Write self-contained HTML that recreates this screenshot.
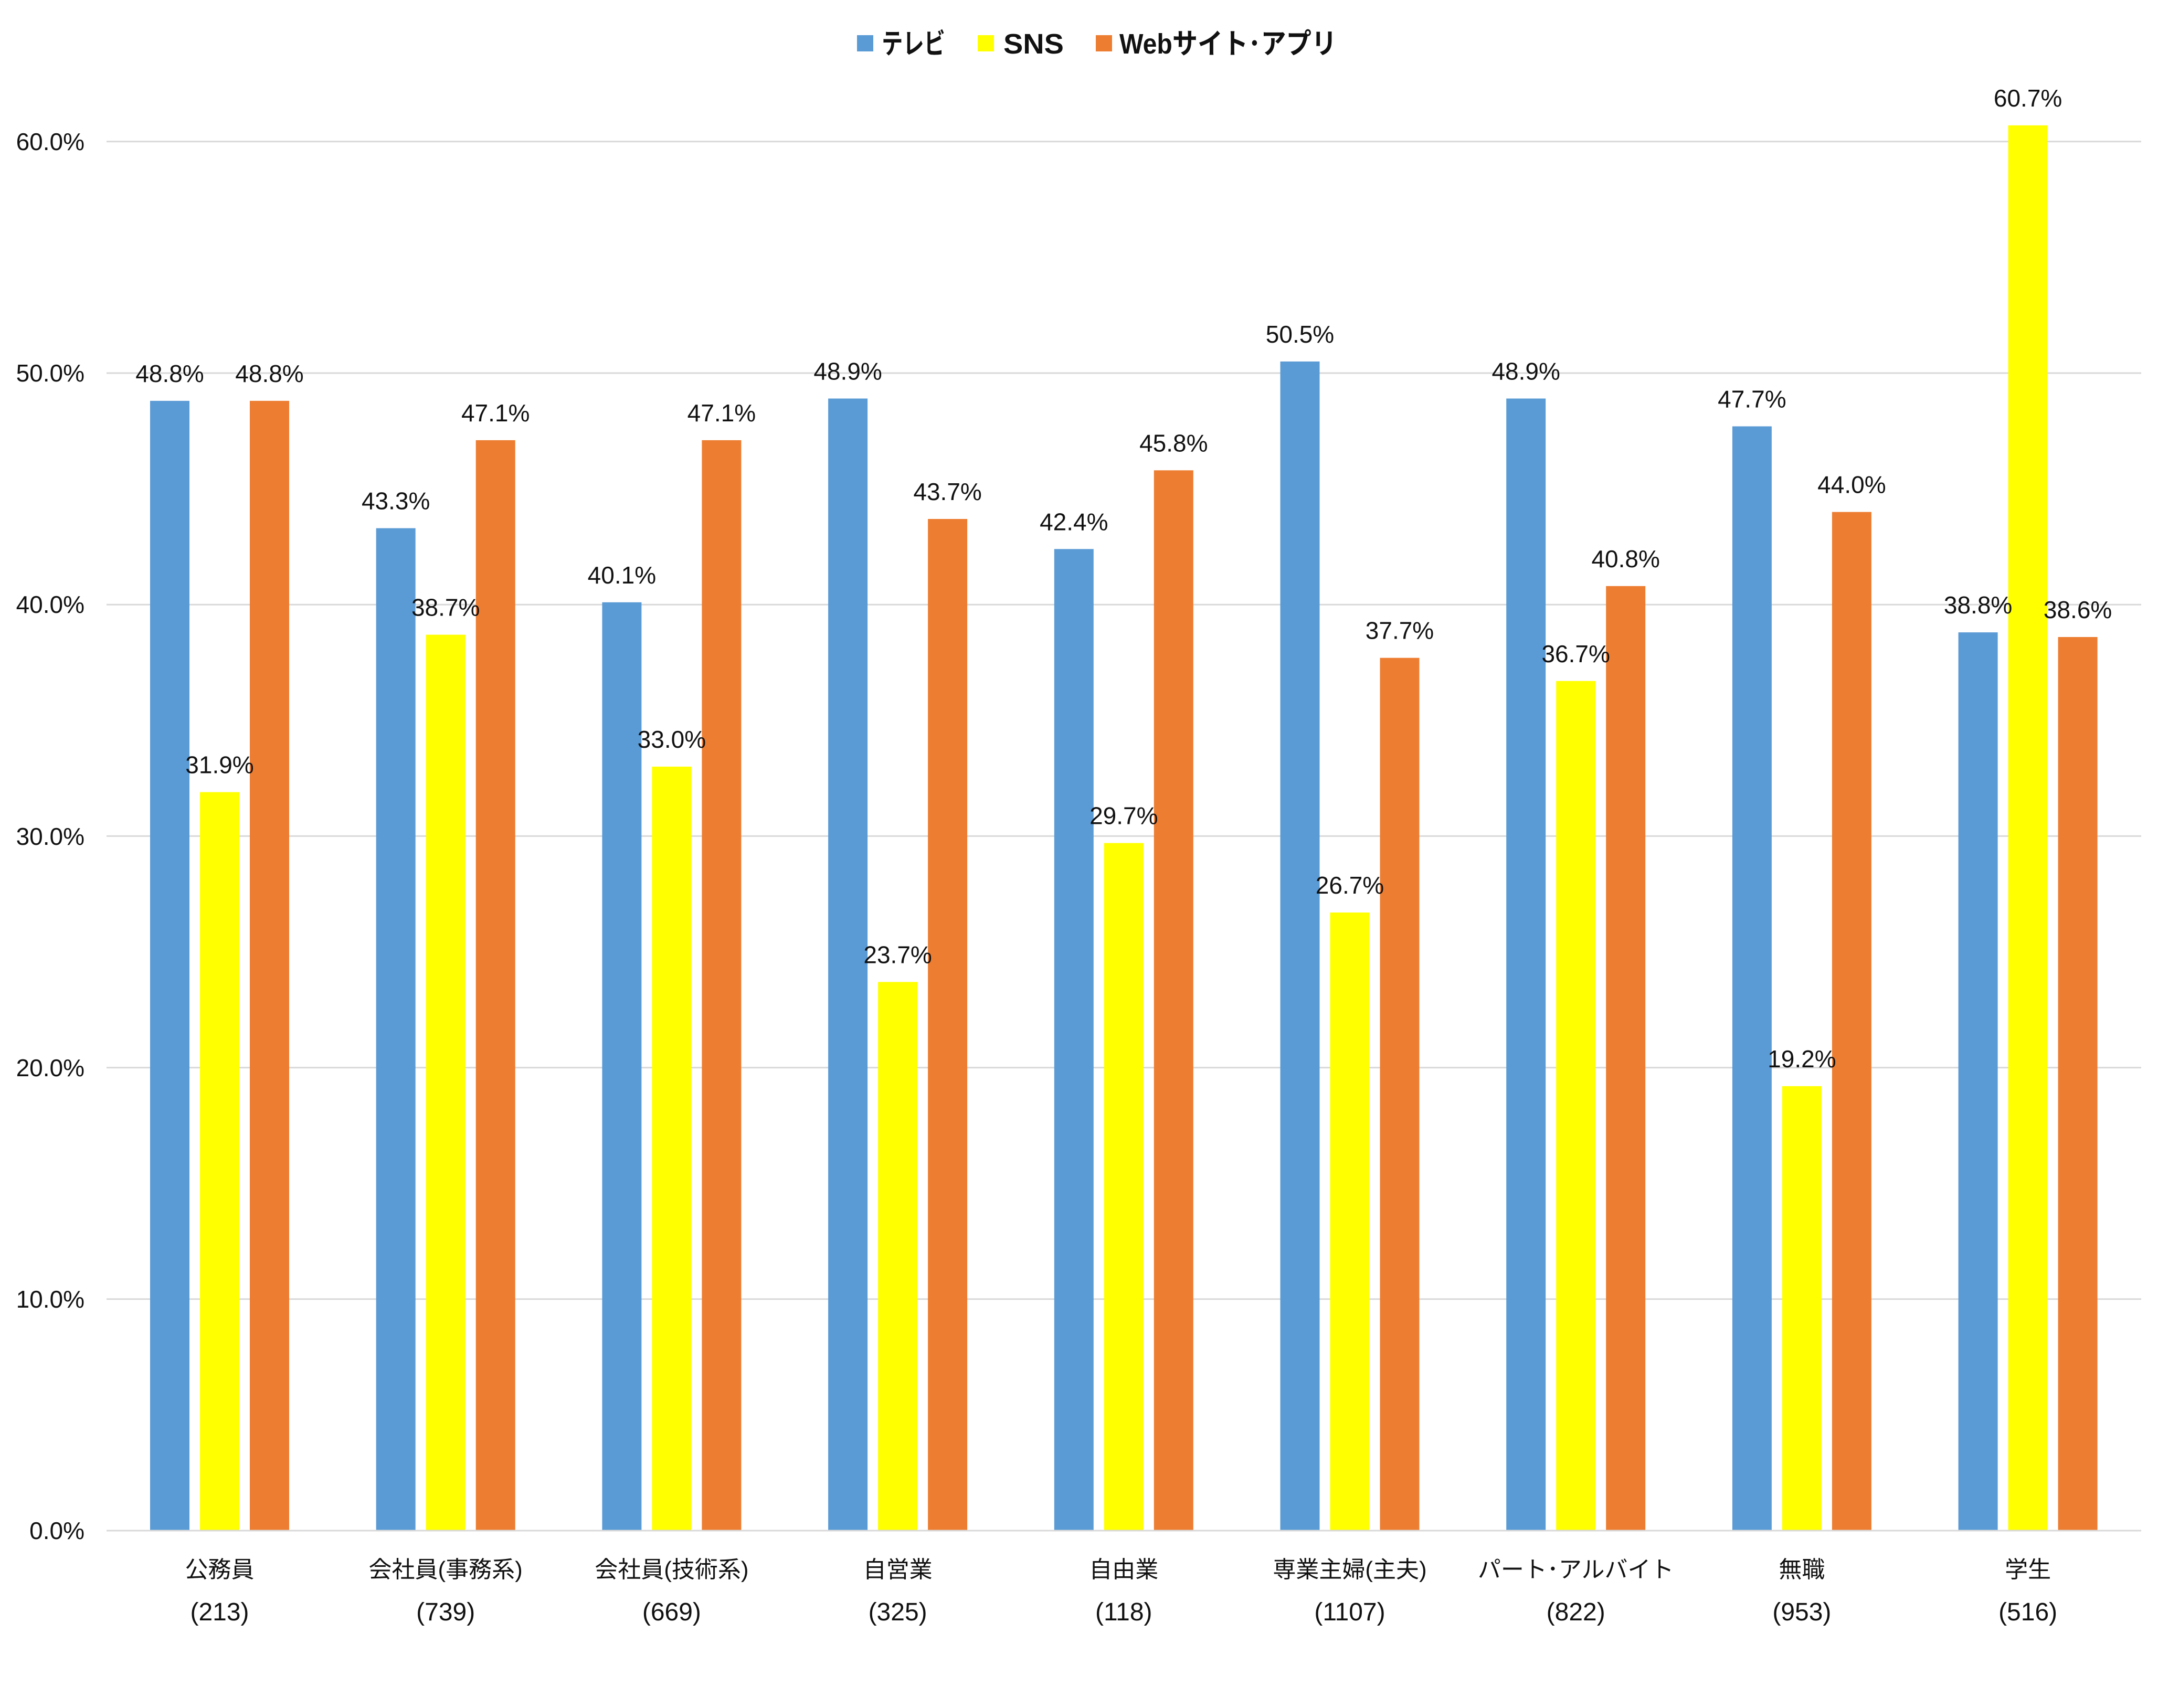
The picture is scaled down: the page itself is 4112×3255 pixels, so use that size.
<!DOCTYPE html>
<html><head><meta charset="utf-8"><style>html,body{margin:0;padding:0;background:#fff}svg{display:block}</style></head>
<body>
<svg width="4112" height="3255" viewBox="0 0 4112 3255" xmlns="http://www.w3.org/2000/svg">
<rect width="4112" height="3255" fill="#fff"/>
<g stroke="#d9d9d9" stroke-width="3">
<line x1="203" y1="2475.8" x2="4080" y2="2475.8"/>
<line x1="203" y1="2034.6" x2="4080" y2="2034.6"/>
<line x1="203" y1="1593.4" x2="4080" y2="1593.4"/>
<line x1="203" y1="1152.2" x2="4080" y2="1152.2"/>
<line x1="203" y1="711" x2="4080" y2="711"/>
<line x1="203" y1="269.8" x2="4080" y2="269.8"/>
</g>
<g font-family="Liberation Sans, sans-serif" font-size="46" fill="#111" text-anchor="end">
<text x="161" y="2933">0.0%</text>
<text x="161" y="2492">10.0%</text>
<text x="161" y="2051">20.0%</text>
<text x="161" y="1610">30.0%</text>
<text x="161" y="1168">40.0%</text>
<text x="161" y="727">50.0%</text>
<text x="161" y="286">60.0%</text>
</g>
<g fill="#5b9bd5">
<rect x="286" y="763.9" width="75" height="2152"/>
<rect x="716.7" y="1006.6" width="75" height="1910"/>
<rect x="1147.4" y="1147.8" width="75" height="1769"/>
<rect x="1578.1" y="759.5" width="75" height="2157"/>
<rect x="2008.8" y="1046.3" width="75" height="1871"/>
<rect x="2439.5" y="688.9" width="75" height="2228"/>
<rect x="2870.2" y="759.5" width="75" height="2157"/>
<rect x="3300.9" y="812.5" width="75" height="2104"/>
<rect x="3731.6" y="1205.1" width="75" height="1712"/>
</g>
<g fill="#ffff00">
<rect x="381" y="1509.6" width="75" height="1407"/>
<rect x="811.7" y="1209.6" width="75" height="1707"/>
<rect x="1242.4" y="1461" width="75" height="1456"/>
<rect x="1673.1" y="1871.4" width="75" height="1046"/>
<rect x="2103.8" y="1606.6" width="75" height="1310"/>
<rect x="2534.5" y="1739" width="75" height="1178"/>
<rect x="2965.2" y="1297.8" width="75" height="1619"/>
<rect x="3395.9" y="2069.9" width="75" height="847"/>
<rect x="3826.6" y="238.9" width="75" height="2678"/>
</g>
<g fill="#ed7d31">
<rect x="476" y="763.9" width="75" height="2152"/>
<rect x="906.7" y="838.9" width="75" height="2078"/>
<rect x="1337.4" y="838.9" width="75" height="2078"/>
<rect x="1768.1" y="989" width="75" height="1928"/>
<rect x="2198.8" y="896.3" width="75" height="2021"/>
<rect x="2629.5" y="1253.7" width="75" height="1663"/>
<rect x="3060.2" y="1116.9" width="75" height="1800"/>
<rect x="3490.9" y="975.7" width="75" height="1941"/>
<rect x="3921.6" y="1214" width="75" height="1703"/>
</g>
<line x1="203" y1="2917" x2="4080" y2="2917" stroke="#d9d9d9" stroke-width="3"/>
<g font-family="Liberation Sans, sans-serif" font-size="46" fill="#111" text-anchor="middle">
<text x="323.5" y="727.9">48.8%</text>
<text x="754.2" y="970.6">43.3%</text>
<text x="1184.9" y="1111.8">40.1%</text>
<text x="1615.6" y="723.5">48.9%</text>
<text x="2046.3" y="1010.3">42.4%</text>
<text x="2477" y="652.9">50.5%</text>
<text x="2907.7" y="723.5">48.9%</text>
<text x="3338.4" y="776.5">47.7%</text>
<text x="3769.1" y="1169.1">38.8%</text>
<text x="418.5" y="1473.6">31.9%</text>
<text x="849.2" y="1173.6">38.7%</text>
<text x="1279.9" y="1425">33.0%</text>
<text x="1710.6" y="1835.4">23.7%</text>
<text x="2141.3" y="1570.6">29.7%</text>
<text x="2572" y="1703">26.7%</text>
<text x="3002.7" y="1261.8">36.7%</text>
<text x="3433.4" y="2033.9">19.2%</text>
<text x="3864.1" y="202.9">60.7%</text>
<text x="513.5" y="727.9">48.8%</text>
<text x="944.2" y="802.9">47.1%</text>
<text x="1374.9" y="802.9">47.1%</text>
<text x="1805.6" y="953">43.7%</text>
<text x="2236.3" y="860.3">45.8%</text>
<text x="2667" y="1217.7">37.7%</text>
<text x="3097.7" y="1080.9">40.8%</text>
<text x="3528.4" y="939.7">44.0%</text>
<text x="3959.1" y="1178">38.6%</text>
</g>
<g font-family="Liberation Sans, Noto Sans CJK JP, sans-serif" font-size="44" fill="#111" text-anchor="middle">
<text x="418.5" y="3006">公務員</text>
<text x="849.2" y="3006">会社員(事務系)</text>
<text x="1279.9" y="3006">会社員(技術系)</text>
<text x="1710.6" y="3006">自営業</text>
<text x="2141.3" y="3006">自由業</text>
<text x="2572" y="3006">専業主婦(主夫)</text>
<text x="3002.7" y="3006">パート･アルバイト</text>
<text x="3433.4" y="3006">無職</text>
<text x="3864.1" y="3006">学生</text>
</g>
<g font-family="Liberation Sans, sans-serif" font-size="48" fill="#111" text-anchor="middle">
<text x="418.5" y="3088">(213)</text>
<text x="849.2" y="3088">(739)</text>
<text x="1279.9" y="3088">(669)</text>
<text x="1710.6" y="3088">(325)</text>
<text x="2141.3" y="3088">(118)</text>
<text x="2572" y="3088">(1107)</text>
<text x="3002.7" y="3088">(822)</text>
<text x="3433.4" y="3088">(953)</text>
<text x="3864.1" y="3088">(516)</text>
</g>
<rect x="1633" y="67" width="31" height="31" fill="#5b9bd5"/>
<rect x="1863" y="67" width="31" height="31" fill="#ffff00"/>
<rect x="2088" y="67" width="31" height="31" fill="#ed7d31"/>
<g font-family="Liberation Sans, Noto Sans CJK JP, sans-serif" font-size="54" font-weight="bold" fill="#111">
<text x="1680" y="102" textLength="121" lengthAdjust="spacingAndGlyphs">テレビ</text>
<text x="1912" y="102" textLength="115" lengthAdjust="spacingAndGlyphs">SNS</text>
<text x="2133" y="102" textLength="414" lengthAdjust="spacingAndGlyphs">Webサイト･アプリ</text>
</g>
</svg>
</body></html>
